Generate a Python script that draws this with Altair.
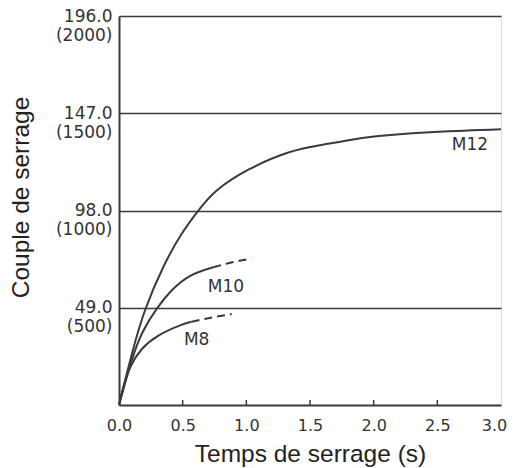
import altair as alt
import pandas as pd

# values (torque in N·m, time in s)
m12_t = [0, 0.10, 0.206, 0.35, 0.49, 0.62, 0.77, 1.02, 1.33, 1.59, 1.85, 2.11, 2.51, 3.0]
m12_v = [0, 25.5, 48, 69.8, 86, 97.7, 108.2, 118.7, 127.2, 131.0, 133.9, 135.9, 137.7, 139]

m10_t = [0, 0.10, 0.19, 0.30, 0.415, 0.56, 0.74]
m10_v = [0, 22.5, 37.3, 48.8, 57.8, 65.1, 69.4]
m10_dash_t = [0.74, 0.89, 1.04]
m10_dash_v = [69.4, 71.9, 73.8]

m8_t = [0, 0.03, 0.09, 0.18, 0.31, 0.48, 0.57]
m8_v = [0, 8.1, 19.2, 28.2, 35.0, 40.1, 41.9]
m8_dash_t = [0.57, 0.73, 0.885]
m8_dash_v = [41.9, 44.1, 45.8]

label_names = ["M12", "M10", "M8"]
label_t = [2.756, 0.84, 0.61]
label_v = [130.8, 59.4, 32.8]

x_ticks = [0.0, 0.5, 1.0, 1.5, 2.0, 2.5, 3.0]
y_ticks = [49.0, 98.0, 147.0, 196.0]
y_kgf = ["(500)", "(1000)", "(1500)", "(2000)"]

INK = "#3a3a3a"
TICK_FONT = "DejaVu Sans"
TITLE_FONT = "Liberation Sans"


def frame(name, ts, vs):
    return pd.DataFrame({"t": ts, "v": vs, "curve": name})


solid = pd.concat([
    frame("M12", m12_t, m12_v),
    frame("M10", m10_t, m10_v),
    frame("M8", m8_t, m8_v),
])
dashed = pd.concat([
    frame("M10", m10_dash_t, m10_dash_v),
    frame("M8", m8_dash_t, m8_dash_v),
])
labels = pd.DataFrame({"name": label_names, "t": label_t, "v": label_v})
ticks = pd.DataFrame({"t": x_ticks[1:-1]})

# second label line (kgf·cm) picked by tick value
kgf_expr = "''"
for val, txt in zip(y_ticks, y_kgf):
    kgf_expr = f"datum.value == {val} ? '{txt}' : ({kgf_expr})"
y_label_expr = f"[format(datum.value, '.1f'), {kgf_expr}]"

x_scale = alt.Scale(domain=[0, 3], nice=False, zero=True)
y_scale = alt.Scale(domain=[0, 196], nice=False)

# last x label nudged inwards so it is not clipped at the page edge
last_x_offset = {"condition": {"test": f"datum.value == {x_ticks[-1]}", "value": -7}, "value": 0}

x_enc = alt.X(
    "t:Q",
    scale=x_scale,
    axis=alt.Axis(
        values=x_ticks, format=".1f", grid=False, ticks=False,
        labelPadding=12, labelFontSize=16, labelColor="#333", labelFont=TICK_FONT,
        labelFlush=False, labelOffset=last_x_offset,
        title="Temps de serrage (s)", titleFontSize=24.5, titleFontWeight="normal",
        titleColor="#222", titleFont=TITLE_FONT, titleY=49,
        titleBaseline="middle", domainColor=INK, domainWidth=2,
    ),
)
y_enc = alt.Y(
    "v:Q",
    scale=y_scale,
    axis=alt.Axis(
        values=y_ticks, grid=True, gridColor=INK, gridWidth=1.6, ticks=False,
        labelExpr=y_label_expr, labelBaseline="top", labelOffset=-8,
        labelLineHeight=19, labelFontSize=17, labelColor="#333", labelFont=TICK_FONT,
        labelPadding=7, labelFlush=False,
        title="Couple de serrage", titleFontSize=24.5, titleFontWeight="normal",
        titleColor="#222", titleFont=TITLE_FONT, titleX=-98, titleY=181,
        titleBaseline="middle", domainColor=INK, domainWidth=2,
    ),
)

solid_lines = alt.Chart(solid).mark_line(
    color=INK, strokeWidth=2, interpolate="natural"
).encode(x=x_enc, y=y_enc, detail="curve:N")

dashed_lines = alt.Chart(dashed).mark_line(
    color=INK, strokeWidth=2, strokeDash=[8, 5], interpolate="natural"
).encode(x="t:Q", y="v:Q", detail="curve:N")

curve_labels = alt.Chart(labels).mark_text(
    fontSize=17, font=TICK_FONT, color="#333"
).encode(x="t:Q", y="v:Q", text="name:N")

inner_ticks = alt.Chart(ticks).mark_rule(color=INK, strokeWidth=1.5).encode(
    x="t:Q", y=alt.value(389), y2=alt.value(384)
)

chart = (
    alt.layer(solid_lines, dashed_lines, curve_labels, inner_ticks)
    .properties(
        width=382,
        height=389,
        autosize=alt.AutoSizeParams(type="none"),
        padding={"left": 111, "top": 8, "right": 6, "bottom": 62},
    )
    .configure_view(stroke=INK, strokeWidth=2)
    .configure(background="white")
)

chart.save("out.html", embed_options={"renderer": "svg", "actions": False})
